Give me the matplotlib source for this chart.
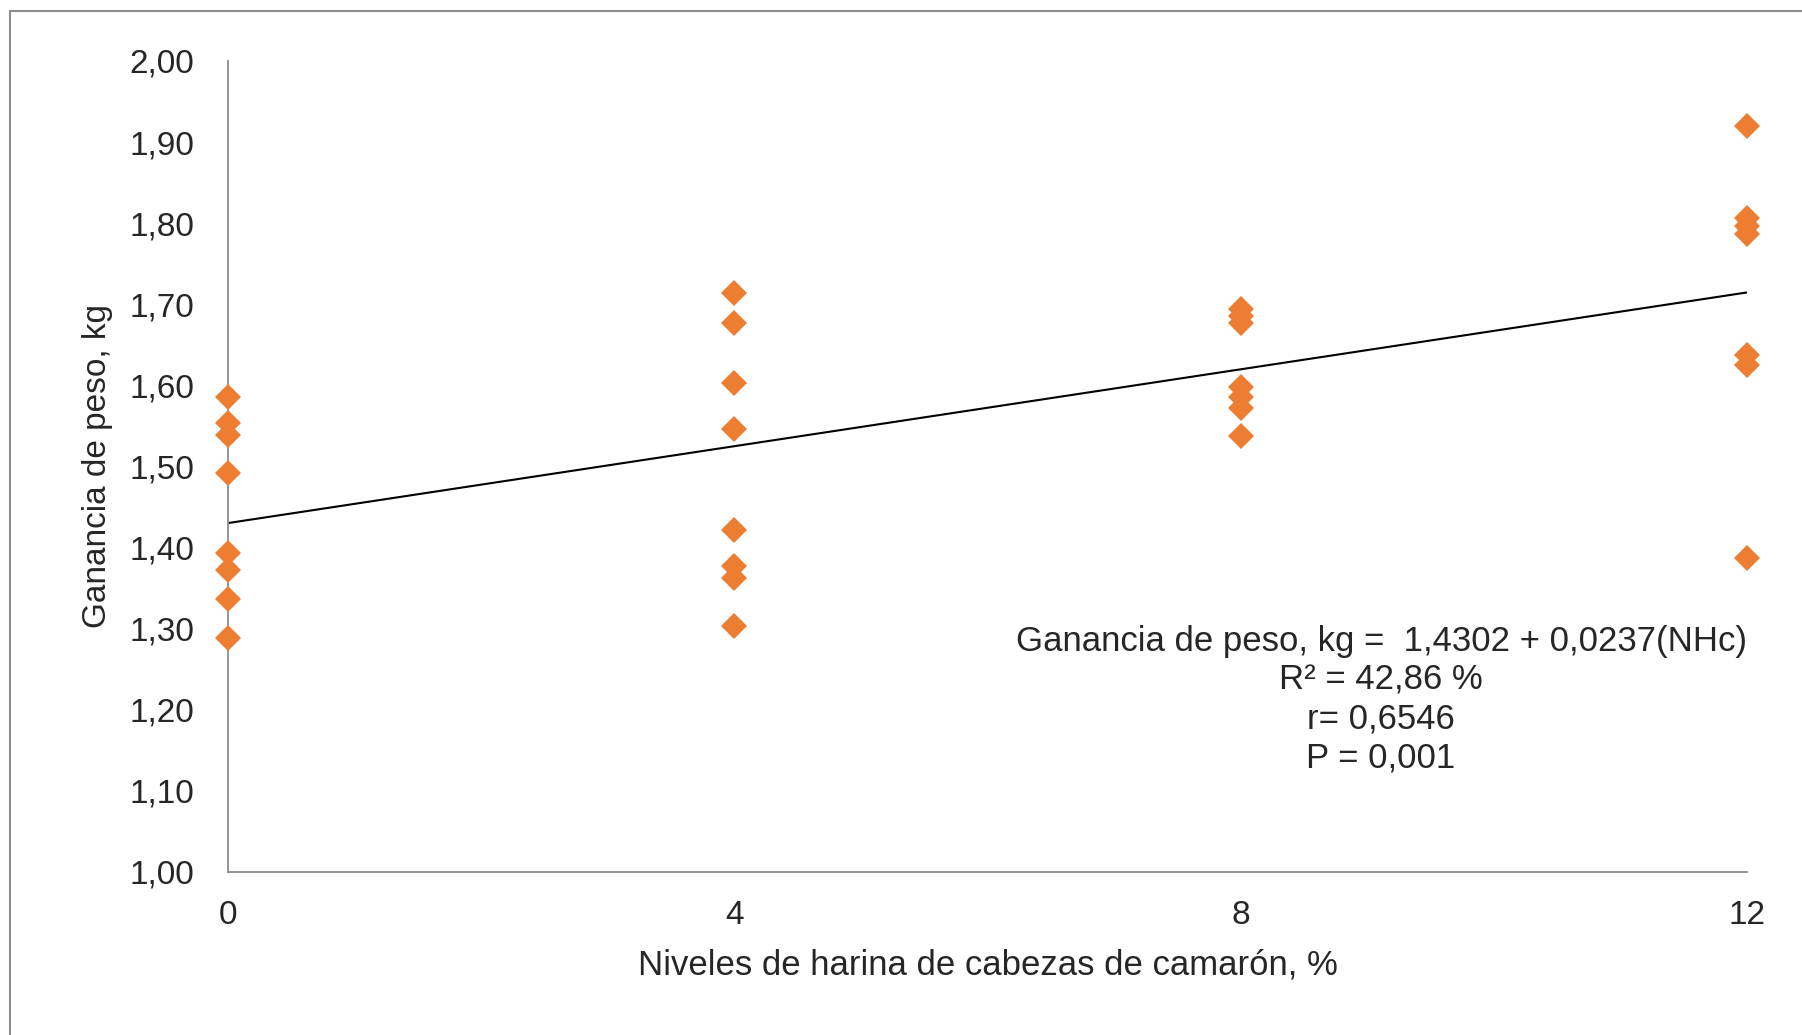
import matplotlib.pyplot as plt
from matplotlib.patches import Rectangle
import numpy as np

# ---- Data ----------------------------------------------------------------
levels = [0, 4, 8, 12]   # % harina de cabezas de camarón
gain_0 = [1.586, 1.553, 1.539, 1.492, 1.393, 1.372, 1.336, 1.288]
gain_4 = [1.714, 1.677, 1.603, 1.546, 1.422, 1.377, 1.362, 1.303]
gain_8 = [1.694, 1.686, 1.677, 1.598, 1.586, 1.572, 1.537]
gain_12 = [1.920, 1.806, 1.797, 1.787, 1.637, 1.625, 1.387]

intercept = 1.4302
slope = 0.0237

yticks = np.arange(1.0, 2.001, 0.1)
eq_lines = ["Ganancia de peso, kg =  1,4302 + 0,0237(NHc)",
            "R² = 42,86 %",
            "r= 0,6546",
            "P = 0,001"]

# ---- Figure setup --------------------------------------------------------
plt.rcParams["font.family"] = ["Liberation Sans", "DejaVu Sans"]
fig = plt.figure(figsize=(18.02, 10.35), dpi=100)
ax = fig.add_axes([0.1265, 0.1575, 0.843, 0.7836])

ORANGE = "#ED7D31"
AXIS_GRAY = "#8C8C8C"
TEXT = "#262626"

for lvl, vals in zip(levels, [gain_0, gain_4, gain_8, gain_12]):
    ax.plot([lvl] * len(vals), vals, linestyle="none", marker="D",
            markersize=13, color=ORANGE, markeredgewidth=0,
            clip_on=False, zorder=3)

# trend line from the fitted equation
xs = np.array([levels[0], levels[-1]])
ax.plot(xs, intercept + slope * xs, color="black", linewidth=1.5, zorder=2)

for i, line in enumerate(eq_lines):
    fig.text(1381 / 1802, 1 - (642 + i * 38.5) / 1035, line,
             ha="center", va="center", fontsize=25, color=TEXT)

# ---- Cosmetics -----------------------------------------------------------
ax.set_xlim(0, 12)
ax.set_ylim(1.0, 2.0)
ax.set_xticks(levels)
ax.set_xticklabels([str(v) for v in levels])
ax.set_yticks(yticks)
ax.set_yticklabels([f"{v:.2f}".replace(".", ",") for v in yticks])
ax.tick_params(axis="both", length=0, labelsize=24, colors=TEXT)
ax.tick_params(axis="y", pad=24)
ax.tick_params(axis="x", pad=20)

ax.set_ylabel("Ganancia de peso, kg", fontsize=24, color=TEXT)
ax.yaxis.set_label_coords(-0.086, 0.5)
ax.set_xlabel("Niveles de harina de cabezas de camarón, %", fontsize=25,
              color=TEXT)
ax.xaxis.set_label_coords(0.5, -0.115)
ax.xaxis.label.set_va("center")
ax.yaxis.label.set_va("center")

for spine in ("top", "right"):
    ax.spines[spine].set_visible(False)
for spine in ("left", "bottom"):
    ax.spines[spine].set_color(AXIS_GRAY)
    ax.spines[spine].set_linewidth(1.3)

# outer chart border
fig.patches.append(Rectangle((10 / 1802, -0.05), 1.1, 1.05 - 11 / 1035,
                             transform=fig.transFigure, fill=False,
                             edgecolor="#8C8C8C", linewidth=1.5))

plt.savefig("out.png", dpi=100)
